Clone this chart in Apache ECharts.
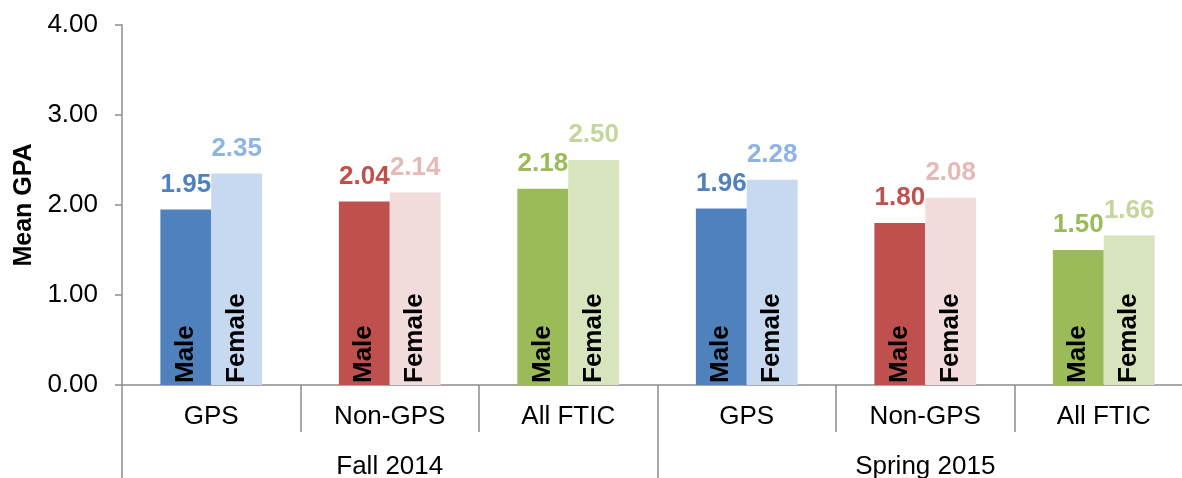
<!DOCTYPE html>
<html>
<head>
<meta charset="utf-8">
<script src="https://cdn.jsdelivr.net/npm/echarts@6/dist/echarts.min.js"></script>
<style>
  html, body { margin: 0; padding: 0; background: #fff; }
  #chart { width: 1182px; height: 478px; }
</style>
</head>
<body>
<div id="chart"></div>
<script>
// Student groups (inner axis level) and terms (outer axis level)
const subgroups = ['GPS', 'Non-GPS', 'All FTIC', 'GPS', 'Non-GPS', 'All FTIC'];
const terms = ['Fall 2014', 'Spring 2015'];

// Mean GPA by gender for each group
const maleGPA   = [1.95, 2.04, 2.18, 1.96, 1.80, 1.50];
const femaleGPA = [2.35, 2.14, 2.50, 2.28, 2.08, 1.66];

// Y axis range
const yMin = 0;
const yMax = 4;
const yStep = 1;

// Group colours: GPS, Non-GPS, All FTIC
const maleColors = ['#4F81BD', '#C0504D', '#9BBB59'];
const femaleColors = ['#C6D9F1', '#F2DCDB', '#D7E4BD'];
const femaleLabelColors = ['#8EB4E3', '#E6B9B8', '#C3D69B'];

const FONT = '"Liberation Sans", Arial, Helvetica, sans-serif';
const AXIS_GREY = '#8C8C8C';

// Zero-height bar at the base of each column that carries the gender tag
function tagSeries(stackName, text, source) {
  return {
    type: 'bar',
    stack: stackName,
    silent: true,
    data: source.map(() => 0),
    itemStyle: { color: 'rgba(0,0,0,0)' },
    label: {
      show: true,
      formatter: text,
      position: 'insideBottom',
      rotate: 90,
      align: 'left',
      verticalAlign: 'middle',
      distance: 3,
      offset: [-1, 0],
      color: '#000',
      fontFamily: FONT,
      fontWeight: 'bold',
      fontSize: 26
    }
  };
}

// Coloured value bar with its value printed above
function valueSeries(stackName, name, source, fills, labelColors) {
  return {
    type: 'bar',
    name: name,
    stack: stackName,
    barCategoryGap: '43%',
    barGap: '0%',
    data: source.map((v, i) => ({
      value: v,
      itemStyle: { color: fills[i % 3] },
      label: { color: labelColors[i % 3] }
    })),
    label: {
      show: true,
      position: 'top',
      distance: 12,
      fontFamily: FONT,
      fontWeight: 'bold',
      fontSize: 26,
      formatter: p => Number(p.value).toFixed(2)
    }
  };
}

const chart = echarts.init(document.getElementById('chart'), null, { renderer: 'canvas' });

chart.setOption({
  backgroundColor: '#fff',
  animation: false,
  grid: {
    left: 122,
    right: -11,
    top: 25,
    bottom: 93,
    containLabel: false,
    outerBoundsMode: 'none'
  },
  xAxis: [
    {
      type: 'category',
      data: subgroups,
      position: 'bottom',
      axisLine: { show: true, lineStyle: { color: AXIS_GREY, width: 1.5 } },
      axisTick: { show: true, interval: 0, length: 47, lineStyle: { color: AXIS_GREY, width: 1.5 } },
      axisLabel: { interval: 0, margin: 19, color: '#000', fontFamily: FONT, fontSize: 26 },
      splitLine: { show: false }
    },
    {
      type: 'category',
      data: terms,
      position: 'bottom',
      axisLine: { show: false },
      axisTick: { show: true, interval: 0, length: 93, lineStyle: { color: AXIS_GREY, width: 1.5 } },
      axisLabel: { interval: 0, margin: 69, color: '#000', fontFamily: FONT, fontSize: 26 },
      splitLine: { show: false }
    }
  ],
  yAxis: {
    type: 'value',
    min: yMin,
    max: yMax,
    interval: yStep,
    name: 'Mean GPA',
    nameLocation: 'middle',
    nameGap: 84,
    nameRotate: 90,
    nameTextStyle: { color: '#000', fontFamily: FONT, fontWeight: 'bold', fontSize: 25 },
    axisLine: { show: true, lineStyle: { color: AXIS_GREY, width: 1.5 } },
    axisTick: { show: true, length: 7, lineStyle: { color: AXIS_GREY, width: 1.5 } },
    axisLabel: {
      margin: 24,
      color: '#000',
      fontFamily: FONT,
      fontSize: 26,
      formatter: v => v.toFixed(2)
    },
    splitLine: { show: false }
  },
  series: [
    tagSeries('male', 'Male', maleGPA),
    valueSeries('male', 'Male', maleGPA, maleColors, maleColors),
    tagSeries('female', 'Female', femaleGPA),
    valueSeries('female', 'Female', femaleGPA, femaleColors, femaleLabelColors)
  ]
});
</script>
</body>
</html>
